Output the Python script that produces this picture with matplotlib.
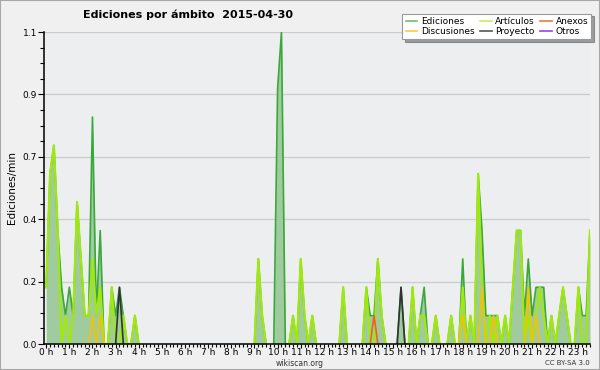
import numpy as np
import matplotlib
matplotlib.use("Agg")
import matplotlib.pyplot as plt
from matplotlib.lines import Line2D
from matplotlib.patches import Rectangle

# edits per minute, 10-minute bins from 0:00 to 23:30
ediciones = [0.2, 0.6, 0.7, 0.4, 0.2, 0.1, 0.2, 0.1, 0.5, 0.3, 0.1, 0.1,
             0.8, 0.1, 0.4, 0, 0, 0.2, 0.1, 0.2, 0.1, 0, 0, 0.1,
             0, 0, 0, 0, 0, 0, 0, 0, 0, 0, 0, 0,
             0, 0, 0, 0, 0, 0, 0, 0, 0, 0, 0, 0,
             0, 0, 0, 0, 0, 0, 0, 0.3, 0.1, 0, 0, 0,
             0.9, 1.1, 0, 0, 0.1, 0, 0.3, 0.1, 0, 0.1, 0, 0,
             0, 0, 0, 0, 0, 0.2, 0, 0, 0, 0, 0, 0.2,
             0.1, 0.1, 0.3, 0.1, 0, 0, 0, 0, 0.2, 0, 0, 0.2,
             0, 0.1, 0.2, 0, 0, 0.1, 0, 0, 0, 0.1, 0, 0,
             0.3, 0, 0.1, 0, 0.6, 0.4, 0.1, 0.1, 0.1, 0.1, 0, 0.1,
             0, 0.2, 0.4, 0.4, 0.1, 0.3, 0.1, 0.2, 0.2, 0.2, 0, 0.1,
             0, 0.1, 0.2, 0.1, 0, 0, 0.2, 0.1, 0.1, 0.4]
articulos = [0.2, 0.6, 0.7, 0.4, 0, 0.1, 0, 0.1, 0.5, 0.3, 0.1, 0.1,
             0.3, 0.1, 0.2, 0, 0, 0.2, 0, 0, 0.1, 0, 0, 0.1,
             0, 0, 0, 0, 0, 0, 0, 0, 0, 0, 0, 0,
             0, 0, 0, 0, 0, 0, 0, 0, 0, 0, 0, 0,
             0, 0, 0, 0, 0, 0, 0, 0.3, 0.1, 0, 0, 0,
             0, 0, 0, 0, 0.1, 0, 0.3, 0.1, 0, 0.1, 0, 0,
             0, 0, 0, 0, 0, 0.2, 0, 0, 0, 0, 0, 0.2,
             0, 0, 0.3, 0.1, 0, 0, 0, 0, 0, 0, 0, 0.2,
             0, 0.1, 0.1, 0, 0, 0.1, 0, 0, 0, 0.1, 0, 0,
             0.2, 0, 0.1, 0, 0.6, 0.2, 0, 0.1, 0, 0.1, 0, 0.1,
             0, 0.2, 0.4, 0.4, 0, 0.1, 0, 0.1, 0.2, 0.1, 0, 0.1,
             0, 0.1, 0.2, 0.1, 0, 0, 0.2, 0, 0, 0.4]
discusiones = {12: 0.1, 14: 0.1, 108: 0.1, 113: 0.2, 116: 0.1, 125: 0.2, 127: 0.1}
anexos = {85: 0.1}
proyecto = {19: 0.2, 92: 0.2}
otros = {}

n = len(ediciones)
hours = np.arange(n) / 6.0


def series(d):
    if isinstance(d, dict):
        v = np.zeros(n)
        for k, val in d.items():
            v[k] = val
        return v
    return np.array(d, dtype=float)


def masked(v):
    # hide flat runs lying on the baseline (they sit under the x axis)
    z = v == 0
    left = np.r_[True, z[:-1]]
    right = np.r_[z[1:], True]
    out = v.copy()
    out[z & left & right] = np.nan
    return out


ed = series(ediciones)

fig = plt.figure(figsize=(6, 3.7), dpi=100, facecolor="#f0f0f0")
ax = fig.add_axes([44 / 600, 26 / 370, 546 / 600, 312 / 370], facecolor="#eceef0")

ax.fill_between(hours, 0, ed, color="#9fcb9f", lw=0, zorder=1)
ax.plot(hours, masked(ed), color="#3aa83a", lw=1.2, zorder=3)
ax.plot(hours, masked(series(articulos)), color="#a0e810", lw=1.6, zorder=4)
ax.plot(hours, masked(series(discusiones)), color="#f2c400", lw=1.2, zorder=5)
ax.plot(hours, masked(series(anexos)), color="#f06020", lw=1.2, zorder=5)
ax.plot(hours, masked(series(proyecto)), color="#333333", lw=1.2, zorder=6)
ax.plot(hours, masked(series(otros)), color="#9933ee", lw=1.2, zorder=6)

ax.set_xlim(-0.095, 23.5)
ax.set_ylim(0, 1.1)

yt = [0, 0.22, 0.44, 0.66, 0.88, 1.1]
ax.set_yticks(yt)
ax.set_yticklabels(["0.0", "0.2", "0.4", "0.7", "0.9", "1.1"])
ax.set_yticks(np.arange(0, 1.1001, 0.055), minor=True)
ax.set_xticks(range(24))
ax.set_xticklabels([f"{h} h" for h in range(24)])
ax.set_xticks(np.arange(0, 23.51, 1 / 6), minor=True)
ax.tick_params(which="both", direction="out", labelsize=6.5, color="black")
ax.tick_params(axis="y", which="major", length=4, width=0.8, pad=1)
ax.tick_params(axis="y", which="minor", length=3, width=0.8)
ax.tick_params(axis="x", which="major", length=3, width=0.8, pad=0)
ax.tick_params(axis="x", which="minor", length=2.5, width=0.8)
ax.grid(axis="y", color="#cccccc", lw=0.9, zorder=0)
ax.set_axisbelow(True)

for s in ["top", "right"]:
    ax.spines[s].set_visible(False)
for s in ["left", "bottom"]:
    ax.spines[s].set_linewidth(1.1)
    ax.spines[s].set_zorder(10)

ax.set_ylabel("Ediciones/min", fontsize=7.5, labelpad=4)

fig.text(188 / 600, 1 - 15 / 370, "Ediciones por ámbito  2015-04-30",
         ha="center", va="center", fontsize=8, fontweight="bold")
fig.text(300 / 600, 1 - 364 / 370, "wikiscan.org", ha="center", va="center",
         fontsize=5.5, color="#333333")
fig.text(590 / 600, 1 - 363 / 370, "CC BY-SA 3.0", ha="right", va="center",
         fontsize=5, color="#333333")

labels = ["Ediciones", "Discusiones", "Artículos", "Proyecto", "Anexos", "Otros"]
colors = ["#66c466", "#ffcc44", "#ccee55", "#555555", "#ee7744", "#9944ee"]
handles = [Line2D([], [], color=c, lw=1.2) for c in colors]
leg = fig.legend(handles, labels, ncol=3, loc="upper right",
                 bbox_to_anchor=(596 / 600, 1 - 9 / 370), fontsize=6.5,
                 frameon=True, fancybox=False, shadow=True, handlelength=1.3,
                 handletextpad=0.4, columnspacing=0.6, labelspacing=0.15,
                 borderpad=0.35)
leg.get_frame().set_edgecolor("#999999")
leg.get_frame().set_facecolor("white")
leg.get_frame().set_linewidth(0.8)

fig.patches.append(Rectangle((0, 0), 1, 1, transform=fig.transFigure,
                             fill=False, edgecolor="#a8a8a8", lw=1.5))

fig.savefig("out.png", dpi=100, facecolor=fig.get_facecolor())
